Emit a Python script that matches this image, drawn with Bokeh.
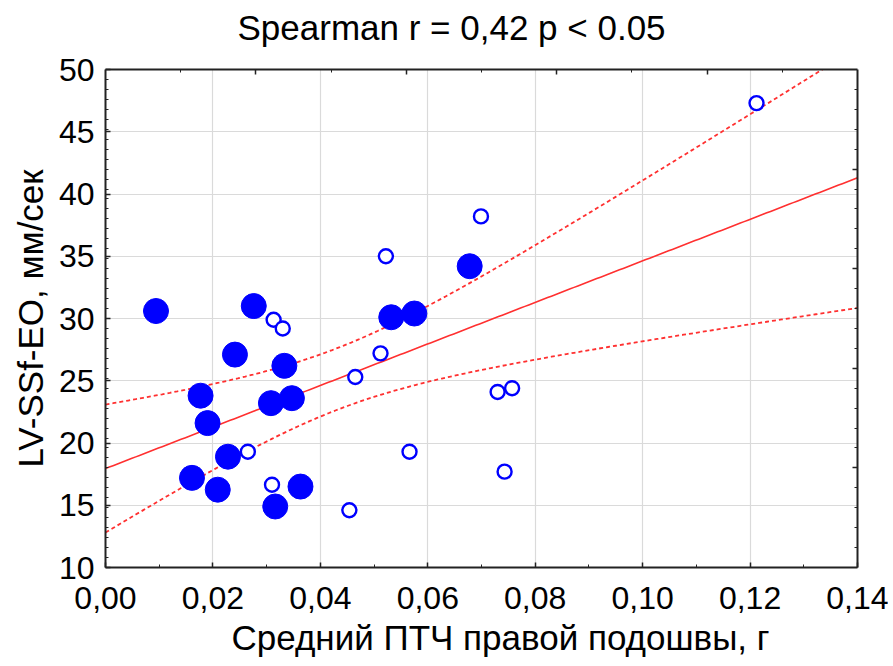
import numpy as np
from bokeh.plotting import figure
from bokeh.models import (LinearAxis, Range1d, FixedTicker, CustomJSTickFormatter,
                          CustomLabelingPolicy, Title)
from bokeh.embed import file_html
from bokeh.resources import INLINE

# ---- data ----
filled_x = [0.0094, 0.0276, 0.0241, 0.0333, 0.0532, 0.0575, 0.0177, 0.0190,
            0.0308, 0.0347, 0.0228, 0.0161, 0.0209, 0.0316, 0.0363, 0.0678]
filled_y = [30.6, 31.0, 27.1, 26.2, 30.1, 30.4, 23.8, 21.6,
            23.2, 23.6, 18.9, 17.2, 16.25, 14.9, 16.5, 34.2]
open_x = [0.0313, 0.0330, 0.0512, 0.0465, 0.0730, 0.0757, 0.0265, 0.0566,
          0.0743, 0.0310, 0.0454, 0.0522, 0.0699, 0.1212]
open_y = [29.9, 29.2, 27.2, 25.3, 24.1, 24.4, 19.3, 19.3,
          17.7, 16.65, 14.6, 35.0, 38.2, 47.3]

x_ticks = [0.00, 0.02, 0.04, 0.06, 0.08, 0.10, 0.12, 0.14]
y_ticks = [10, 15, 20, 25, 30, 35, 40, 45, 50]
title_text = "Spearman r = 0,42 p < 0.05"
x_label = "Средний ПТЧ правой подошвы, г"
y_label = "LV-SSf-EO, мм/сек"
t_crit = 2.048  # t(0.975, df=28)

FONT = "Liberation Sans"

# ---- regression with 95% confidence band ----
ax = np.array(filled_x + open_x)
ay = np.array(filled_y + open_y)
n = len(ax)
slope, intercept = np.polyfit(ax, ay, 1)
resid = ay - (intercept + slope * ax)
s = np.sqrt(np.sum(resid ** 2) / (n - 2))
xbar = ax.mean()
sxx = np.sum((ax - xbar) ** 2)
xf = np.linspace(0, 0.14, 200)
yf = intercept + slope * xf
hw = t_crit * s * np.sqrt(1.0 / n + (xf - xbar) ** 2 / sxx)

p = figure(width=888, height=664, output_backend="svg", toolbar_location=None,
           x_range=Range1d(0, 0.14), y_range=Range1d(10, 50),
           min_border_left=105, min_border_right=31, min_border_top=69,
           min_border_bottom=97, title=None)
p.outline_line_color = None
p.background_fill_color = "white"
p.border_fill_color = "white"

# grid
for g in (p.xgrid, p.ygrid):
    g.grid_line_color = "#dadada"
    g.grid_line_width = 1.2

hide_all = CustomLabelingPolicy(code="""
const idx = Array.from(indices);
for (const i of idx) indices.unset(i);
return indices;
""")

def style_axis(a, labels=True):
    a.axis_line_color = "#222222"
    a.axis_line_width = 2
    a.major_tick_line_color = "#222222"
    a.minor_tick_line_color = "#222222"
    a.major_tick_line_width = 1.5
    a.minor_tick_line_width = 1
    a.major_tick_in = 5
    a.major_tick_out = 0
    a.minor_tick_in = 3
    a.minor_tick_out = 0
    a.major_label_text_font = FONT
    a.major_label_text_font_size = "32px" if labels else "1px"
    a.major_label_text_color = "#000000"
    if not labels:
        a.major_label_policy = hide_all

xa = p.xaxis[0]
ya = p.yaxis[0]
xa.ticker = FixedTicker(ticks=x_ticks,
                        minor_ticks=[0.01, 0.03, 0.05, 0.07, 0.09, 0.11, 0.13])
xa.formatter = CustomJSTickFormatter(code="return tick.toFixed(2).replace('.', ',');")
ya.ticker = FixedTicker(ticks=y_ticks,
                        minor_ticks=list(np.round(np.arange(10.8, 50, 0.8), 2)))
style_axis(xa)
style_axis(ya)
xa.major_label_standoff = 19
ya.major_label_standoff = 11

# secondary (unlabelled) frame axes
p.extra_x_ranges = {"top": Range1d(0, 5)}
p.extra_y_ranges = {"right": Range1d(0, 5)}
ta = LinearAxis(x_range_name="top",
                ticker=FixedTicker(ticks=[1, 2, 3, 4], minor_ticks=[0.5, 1.5, 2.5, 3.5, 4.5]))
ra = LinearAxis(y_range_name="right",
                ticker=FixedTicker(ticks=[1, 2, 3, 4],
                                   minor_ticks=list(np.round(np.arange(0.2, 5, 0.2), 2))))
style_axis(ta, labels=False)
style_axis(ra, labels=False)
ta.major_label_standoff = 15
ra.major_label_standoff = 0
p.add_layout(ta, "above")
p.add_layout(ra, "right")

# titles (chart title and axis titles)
def mk_title(text, align, offset, standoff, valign):
    t = Title(text=text, align=align, offset=offset, standoff=standoff,
              vertical_align=valign, text_font=FONT, text_font_size="35px",
              text_font_style="normal", text_color="#000000")
    return t

p.add_layout(mk_title(title_text, "left", 132, 4, "top"), "above")
p.add_layout(mk_title(x_label, "left", 126, 12, "top"), "below")
p.add_layout(mk_title(y_label, "left", 100, 12, "bottom"), "left")

# regression line and confidence band
p.line(xf, yf, line_color="#ff3030", line_width=1.6)
p.line(xf, yf + hw, line_color="#ff3030", line_width=1.8, line_dash="4 3")
p.line(xf, yf - hw, line_color="#ff3030", line_width=1.8, line_dash="4 3")

# points
p.scatter(filled_x, filled_y, size=25, marker="circle",
          fill_color="#0000ff", line_color="#0000ff")
p.scatter(open_x, open_y, size=14, marker="circle",
          fill_color="white", line_color="#0000ff", line_width=2.4)

open("out.html", "w").write(file_html(p, INLINE))
